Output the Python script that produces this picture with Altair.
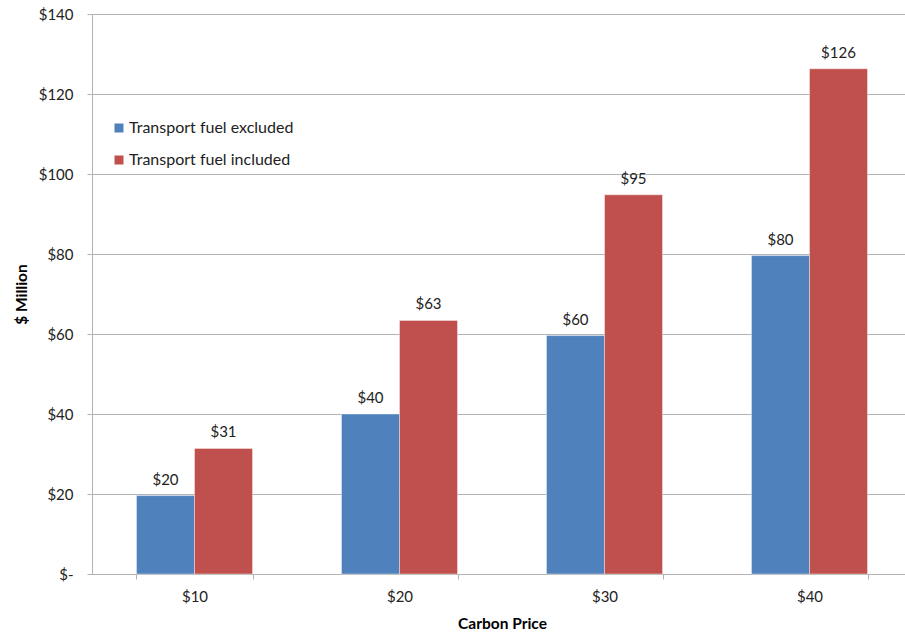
import altair as alt
import pandas as pd

# Carbon price scenarios and estimated revenue ($ million)
carbon_prices = ["$10", "$20", "$30", "$40"]
fuel_excluded = [19.6, 40.0, 59.6, 79.6]
fuel_included = [31.4, 63.4, 94.8, 126.3]
series_names = ["Transport fuel excluded", "Transport fuel included"]
series_colors = ["#4F81BD", "#C0504D"]

rows = []
for i, price in enumerate(carbon_prices):
    rows.append({"price": price, "series": series_names[0], "value": fuel_excluded[i]})
    rows.append({"price": price, "series": series_names[1], "value": fuel_included[i]})
df = pd.DataFrame(rows)

FONT = "Lato"
GRID = "#B3B3B3"

x_enc = alt.X(
    "price:N",
    sort=carbon_prices,
    scale=alt.Scale(range=[0, 820], paddingInner=0.434, paddingOuter=0.217),
    axis=alt.Axis(
        title="Carbon Price",
        titleFont=FONT,
        titleFontSize=15.5,
        titleFontWeight="bold",
        titleColor="#000000",
        titleX=410,
        titleY=49,
        titleBaseline="middle",
        labelFont=FONT,
        labelFontSize=15,
        labelColor="#222222",
        labelAngle=0,
        labelPadding=10,
        tickBand="extent",
        tickSize=5,
        tickColor=GRID,
        domainColor=GRID,
        grid=False,
    ),
)

y_enc = alt.Y(
    "value:Q",
    scale=alt.Scale(domain=[0, 140], nice=False),
    axis=alt.Axis(
        title="$ Million",
        titleFont=FONT,
        titleFontSize=15.5,
        titleFontWeight="bold",
        titleColor="#000000",
        titleX=-71,
        titleY=280,
        titleBaseline="middle",
        values=[0, 20, 40, 60, 80, 100, 120, 140],
        labelExpr="datum.value == 0 ? '$-' : '$' + datum.value",
        labelFont=FONT,
        labelFontSize=15,
        labelColor="#222222",
        labelPadding=14,
        tickSize=5,
        tickColor=GRID,
        domainColor=GRID,
        gridColor=GRID,
        gridWidth=1,
    ),
)

color_enc = alt.Color(
    "series:N",
    scale=alt.Scale(domain=series_names, range=series_colors),
    legend=alt.Legend(
        title=None,
        orient="none",
        legendX=19,
        legendY=106,
        symbolType="square",
        symbolSize=81,
        symbolStrokeWidth=0,
        labelFont=FONT,
        labelFontSize=16,
        labelColor="#222222",
        labelLimit=400,
        rowPadding=16,
        labelOffset=2,
    ),
)

base = alt.Chart(df).encode(
    x=x_enc,
    xOffset=alt.XOffset("series:N", sort=series_names),
    y=y_enc,
)

bars = base.mark_bar(stroke="white", strokeWidth=0.4).encode(color=color_enc)

labels = base.mark_text(
    baseline="bottom", dy=-8, font=FONT, fontSize=15, color="#222222"
).encode(text=alt.Text("value:Q", format="$.0f"))

chart = (
    alt.layer(bars, labels)
    .properties(
        width=813,
        height=560,
        autosize=alt.AutoSizeParams(type="none"),
        padding={"left": 92, "top": 14, "right": 0, "bottom": 65},
        background="white",
    )
    .configure_view(stroke=None)
)

chart.save("out.html", embed_options={"renderer": "svg", "actions": False})
